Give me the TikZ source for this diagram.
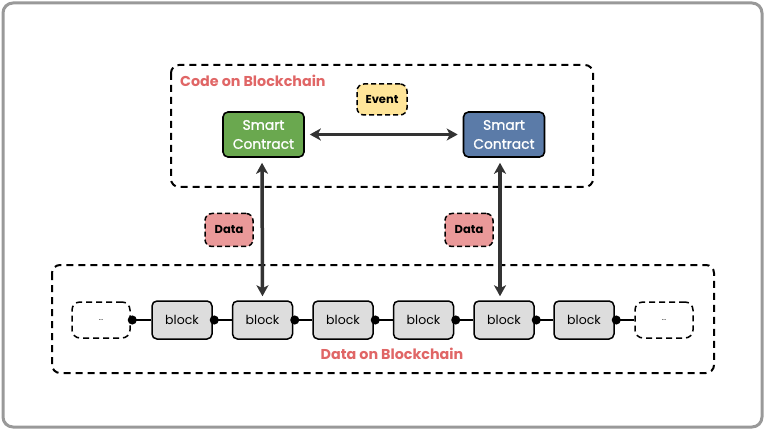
\documentclass[tikz,border=0pt]{standalone}
\usepackage{fontspec}
\setmainfont{Poppins}
\newfontfamily\medfont[FakeBold=1.2]{Poppins}
\usetikzlibrary{arrows.meta}
\definecolor{frame}{HTML}{999999}
\definecolor{scgreen}{HTML}{6AA84F}
\definecolor{scblue}{HTML}{5B7BA8}
\definecolor{evfill}{HTML}{FFE599}
\definecolor{datafill}{HTML}{EA9999}
\definecolor{blockfill}{HTML}{DDDDDD}
\definecolor{lblred}{HTML}{E06666}
\definecolor{arr}{HTML}{333333}
\tikzset{
  groupbox/.style={draw=black, line width=2pt, dash pattern=on 7pt off 5pt, rounded corners=8pt},
  smartbox/.style={draw=black, line width=1.6pt, rounded corners=5pt, minimum width=81pt, minimum height=45pt, text=white, align=center, font=\medfont\fontsize{13.8}{19}\selectfont, inner sep=1pt},
  tagbox/.style={draw=black, line width=1.5pt, dash pattern=on 5pt off 3pt, rounded corners=7pt, font=\bfseries\fontsize{11.5}{13}\selectfont, inner sep=0pt},
  blockbox/.style={draw=black, fill=blockfill, line width=1.5pt, rounded corners=5pt, minimum width=60pt, minimum height=38pt, font=\fontsize{12.5}{14}\selectfont, inner sep=0pt},
  ellbox/.style={draw=black, line width=1.5pt, dash pattern=on 6pt off 4pt, rounded corners=8pt, minimum width=58pt, minimum height=36pt, font=\fontsize{7}{8}\selectfont, inner sep=0pt},
  biarrow/.style={draw=arr, line width=3.5pt, {Stealth[length=11pt,width=12pt,inset=3pt]}-{Stealth[length=11pt,width=12pt,inset=3pt]}},
  chain/.style={draw=black, line width=1.5pt, {Circle[length=9pt]}-, shorten <=-3pt},
  grouplabel/.style={text=lblred, font=\bfseries\fontsize{14.3}{16}\selectfont, inner sep=0pt}
}
\begin{document}
\begin{tikzpicture}[x=1pt,y=-1pt]
\useasboundingbox (0,0) rectangle (765,430);
\draw[frame, line width=3pt, rounded corners=10pt] (3,3) rectangle (762,427);
% groups
\draw[groupbox] (171,65) rectangle (593,187);
\node[grouplabel, anchor=west] (codelbl) at (180,81) {Code on Blockchain};
\draw[groupbox] (52,265) rectangle (714,373);
\node[grouplabel] (datalbl) at (392,354) {Data on Blockchain};
% smart contracts
\node[smartbox, fill=scgreen] (sc1) at (263.5,134.5) {Smart\\Contract};
\node[smartbox, fill=scblue] (sc2) at (504,134.5) {Smart\\Contract};
\node[tagbox, fill=evfill, minimum width=50pt, minimum height=31pt] (event) at (382,99.5) {Event};
\node[tagbox, fill=datafill, minimum width=48pt, minimum height=33pt] (data1) at (229,230) {Data};
\node[tagbox, fill=datafill, minimum width=48pt, minimum height=33pt] (data2) at (469,230) {Data};
% chain
\node[ellbox] (e0) at (101,320) {...};
\node[blockbox] (b1) at (182,320) {block};
\node[blockbox] (b2) at (262.5,320) {block};
\node[blockbox] (b3) at (343,320) {block};
\node[blockbox] (b4) at (423.5,320) {block};
\node[blockbox] (b5) at (504,320) {block};
\node[blockbox] (b6) at (584,320) {block};
\node[ellbox] (e7) at (664,320) {...};
\foreach \a/\b in {e0/b1,b1/b2,b2/b3,b3/b4,b4/b5,b5/b6,b6/e7}
  \draw[chain] (\a.east) -- (\b.west);
% arrows
\draw[biarrow, shorten <=5pt, shorten >=5pt] (sc1.east) -- (sc2.west);
\draw[biarrow, shorten <=5pt, shorten >=4pt] ([xshift=-1.5pt]sc1.south) -- (b2.north);
\draw[biarrow, shorten <=5pt, shorten >=4pt] ([xshift=-4pt]sc2.south) -- ([xshift=-4pt]b5.north);
\end{tikzpicture}
\end{document}
